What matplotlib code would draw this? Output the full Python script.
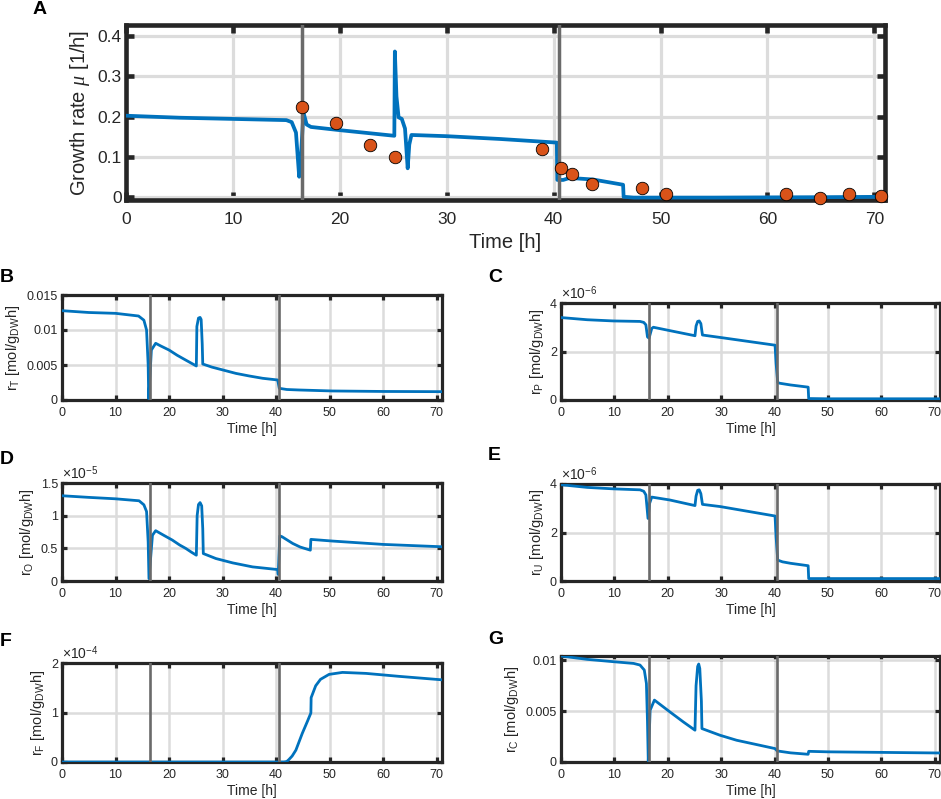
import matplotlib
matplotlib.use('Agg')
import matplotlib.pyplot as plt

plt.rcParams['font.family'] = ['Liberation Sans', 'DejaVu Sans']
plt.rcParams['mathtext.fontset'] = 'custom'
plt.rcParams['mathtext.rm'] = 'Liberation Sans'
plt.rcParams['mathtext.it'] = 'Liberation Serif:italic'

BLUE = '#0072BD'
ORANGE = '#D95319'
GRAY = '#6a6a6a'
GRID = '#dcdcdc'
DARK = '#262626'

# switch times (vertical lines)
switch_times = [16.5, 40.5]
x_ticks = [0, 10, 20, 30, 40, 50, 60, 70]

# ---- panel A: growth rate ----
t_mu = [0, 5, 10, 15, 15.5, 15.9, 16.2, 16.3, 16.6, 16.9, 17.3, 20, 25.1, 25.15,
        25.3, 25.5, 25.8, 26.1, 26.35, 26.5, 26.7, 30, 35, 40.3, 40.35, 40.9, 41.5,
        43.7, 46.5, 46.55, 47.5, 55, 65, 71]
mu = [0.202, 0.197, 0.194, 0.191, 0.186, 0.16, 0.05, 0.07, 0.21, 0.18, 0.174, 0.166,
      0.152, 0.362, 0.25, 0.198, 0.194, 0.17, 0.071, 0.13, 0.154, 0.151, 0.144, 0.135,
      0.042, 0.042, 0.047, 0.043, 0.030, 0.0, -0.002, -0.002, -0.001, 0.0]
t_meas = [16.5, 19.6, 22.8, 25.2, 38.9, 40.65, 41.7, 43.6, 48.3, 50.5, 61.7, 64.9, 67.6, 70.6]
mu_meas = [0.223, 0.185, 0.129, 0.098, 0.118, 0.071, 0.057, 0.033, 0.022, 0.007, 0.007,
           -0.003, 0.007, 0.001]

# ---- panel B: r_T ----
t_T = [0, 5, 10, 14.3, 15.3, 15.8, 16.1, 16.2, 16.7, 17.5, 18.5, 20, 21.5, 23.1, 25.1,
       25.2, 25.5, 25.8, 26.0, 26.2, 26.3, 28, 30, 32.5, 35, 37.5, 40.3, 40.6, 42, 44.3,
       50.5, 60, 71]
r_T = [0.01276, 0.0125, 0.01238, 0.0120, 0.0114, 0.0100, 0.0050, 0.0002, 0.00714, 0.0081,
       0.0077, 0.00714, 0.0064, 0.00571, 0.00486, 0.0105, 0.0117, 0.0118, 0.0115, 0.0080,
       0.00514, 0.0047, 0.0043, 0.0038, 0.00343, 0.0031, 0.00286, 0.00167, 0.0015,
       0.00143, 0.00129, 0.00122, 0.00119]

# ---- panel C: r_P (x1e-6) ----
t_P = [0, 4.9, 9.8, 14.8, 15.5, 15.9, 16.2, 16.5, 17.0, 17.3, 20.4, 25.1, 25.3, 25.6,
       25.9, 26.2, 26.5, 29.8, 40.1, 40.3, 40.6, 41, 43, 46.3, 46.4, 50, 71]
r_P = [3.40, 3.31, 3.26, 3.24, 3.20, 3.10, 2.6, 2.55, 2.95, 3.0, 2.86, 2.65, 3.05, 3.24,
       3.26, 3.15, 2.68, 2.58, 2.26, 1.5, 0.72, 0.69, 0.62, 0.53, 0.06, 0.05, 0.05]

# ---- panel D: r_O (x1e-5) ----
t_O = [0, 5, 10, 14.4, 15.3, 15.8, 16.1, 16.25, 16.9, 17.5, 19, 20.6, 22, 23.1, 24.2,
       25.1, 25.25, 25.5, 25.8, 26.1, 26.3, 26.4, 28.75, 31.9, 35.6, 40.3, 40.4, 40.7,
       41.1, 43.1, 44.5, 46.4, 46.5, 50.6, 60, 71]
r_O = [1.305, 1.28, 1.258, 1.228, 1.166, 1.063, 0.6, 0.036, 0.70, 0.77, 0.70, 0.627,
       0.55, 0.50, 0.44, 0.395, 1.0, 1.17, 1.20, 1.15, 0.8, 0.42, 0.344, 0.277, 0.216,
       0.175, 0.10, 0.69, 0.678, 0.575, 0.52, 0.472, 0.637, 0.611, 0.56, 0.524]

# ---- panel E: r_U (x1e-6) ----
t_U = [0, 4.9, 9.8, 14.8, 15.5, 15.9, 16.3, 16.6, 17.0, 20.4, 25.1, 25.3, 25.6, 25.9,
       26.2, 26.5, 29.8, 40.1, 40.3, 40.6, 41.5, 43, 46.3, 46.4, 50, 71]
r_U = [3.97, 3.86, 3.80, 3.76, 3.70, 3.55, 2.58, 3.2, 3.46, 3.34, 3.11, 3.5, 3.74, 3.76,
       3.6, 3.16, 3.07, 2.68, 1.8, 0.86, 0.79, 0.73, 0.63, 0.10, 0.10, 0.10]

# ---- panel F: r_F (x1e-4) ----
t_F = [0, 41.5, 42.0, 42.4, 43, 43.7, 44.9, 45.85, 46.5, 46.55, 47.4, 48.3, 49.9, 52.4,
       56.8, 63, 71]
r_F = [0, 0, 0.01, 0.05, 0.12, 0.24, 0.58, 0.82, 0.99, 1.30, 1.54, 1.67, 1.77, 1.81,
       1.79, 1.73, 1.66]

# ---- panel G: r_C ----
t_C = [0, 4.9, 9.8, 13.6, 14.8, 15.6, 16.0, 16.2, 16.35, 16.7, 17.5, 20.4, 22.9, 25.1,
       25.3, 25.6, 25.8, 26.0, 26.3, 26.4, 29.8, 32.9, 37.3, 40.1, 40.5, 43, 46.3, 46.4,
       50, 70.3, 71]
r_C = [0.01043, 0.0101, 0.00987, 0.0097, 0.00954, 0.00905, 0.00773, 0.004, 0.0001,
       0.0051, 0.00609, 0.00493, 0.00395, 0.00313, 0.0075, 0.0094, 0.00964, 0.0092, 0.006,
       0.00329, 0.00263, 0.00214, 0.00164, 0.00132, 0.00109, 0.0009, 0.00076, 0.00105,
       0.00100, 0.00089, 0.00089]

W, H = 941, 799
fig = plt.figure(figsize=(W / 100, H / 100), dpi=100)


def box(left, top, right, bottom):
    return [left / W, 1 - bottom / H, (right - left) / W, (bottom - top) / H]


def style(ax, lw, tick_len, fs, grid_lw):
    ax.set_xlim(0, 71)
    ax.set_xticks(x_ticks)
    ax.grid(True, color=GRID, linewidth=grid_lw, zorder=0)
    ax.set_axisbelow(True)
    for s in ax.spines.values():
        s.set_linewidth(lw)
        s.set_color(DARK)
    ax.tick_params(direction='in', top=True, right=True, length=tick_len, width=lw,
                   labelsize=fs, colors=DARK, pad=5)


def small_panel(pos, t, y, ylim, yticks, yticklabels, ylabel, exponent=None):
    ax = fig.add_axes(box(*pos))
    style(ax, 2.3, 3.5, 9, 1.8)
    ax.plot(t, y, color=BLUE, linewidth=2.0, zorder=3)
    for ts in switch_times:
        ax.axvline(ts, color=GRAY, linewidth=1.9, zorder=4)
    ax.set_ylim(*ylim)
    ax.set_yticks(yticks)
    ax.set_yticklabels(yticklabels)
    ax.tick_params(axis='x', pad=5)
    ax.tick_params(axis='y', pad=3)
    ax.set_xlabel('Time [h]', fontsize=10, color=DARK, labelpad=2)
    ax.set_ylabel(ylabel, fontsize=10.5, color=DARK, labelpad=3)
    if exponent is not None:
        ax.text(0.0, 1.015, r'$\times$10$^{%d}$' % exponent, transform=ax.transAxes,
                ha='left', va='bottom', fontsize=10, color=DARK)
    return ax


# panel A
axA = fig.add_axes(box(126, 25, 885, 200))
style(axA, 3.3, 6, 12.5, 2.3)
axA.plot(t_mu, mu, color=BLUE, linewidth=2.7, zorder=3)
for ts in switch_times:
    axA.axvline(ts, color=GRAY, linewidth=2.5, zorder=4)
axA.plot(t_meas, mu_meas, 'o', markersize=9, markerfacecolor=ORANGE,
         markeredgecolor='black', markeredgewidth=0.6, zorder=5, clip_on=False)
axA.set_ylim(-0.008, 0.428)
axA.set_yticks([0, 0.1, 0.2, 0.3, 0.4])
axA.set_yticklabels(['0', '0.1', '0.2', '0.3', '0.4'])
axA.tick_params(axis='x', pad=9)
axA.tick_params(axis='y', pad=3)
axA.set_xlabel('Time [h]', fontsize=14.5, color=DARK, labelpad=4)
axA.set_ylabel(r'Growth rate $\mu$ [1/h]', fontsize=14.5, color=DARK, labelpad=4)

small_panel((62, 295, 442, 400), t_T, r_T, (0, 0.015), [0, 0.005, 0.01, 0.015],
            ['0', '0.005', '0.01', '0.015'], r'r$_\mathrm{T}$ [mol/g$_\mathrm{DW}$h]')
small_panel((561, 303, 940, 400), t_P, r_P, (0, 4), [0, 2, 4], ['0', '2', '4'],
            r'r$_\mathrm{P}$ [mol/g$_\mathrm{DW}$h]', exponent=-6)
small_panel((62, 483, 442, 581), t_O, r_O, (0, 1.5), [0, 0.5, 1, 1.5],
            ['0', '0.5', '1', '1.5'], r'r$_\mathrm{O}$ [mol/g$_\mathrm{DW}$h]', exponent=-5)
small_panel((561, 484, 940, 581), t_U, r_U, (0, 4), [0, 2, 4], ['0', '2', '4'],
            r'r$_\mathrm{U}$ [mol/g$_\mathrm{DW}$h]', exponent=-6)
small_panel((62, 663, 442, 762), t_F, r_F, (0, 2), [0, 1, 2], ['0', '1', '2'],
            r'r$_\mathrm{F}$ [mol/g$_\mathrm{DW}$h]', exponent=-4)
small_panel((561, 656, 940, 762), t_C, r_C, (0, 0.01043), [0, 0.005, 0.01],
            ['0', '0.005', '0.01'], r'r$_\mathrm{C}$ [mol/g$_\mathrm{DW}$h]')

# panel letters
letters = ['A', 'B', 'C', 'D', 'E', 'F', 'G']
letter_pos = [(33, 10), (0, 277), (488, 278), (0, 459), (488, 456), (0, 641), (488, 640)]
for lab, (px, py) in zip(letters, letter_pos):
    fig.text(px / W, 1 - py / H, lab, fontsize=14, fontweight='bold', ha='left',
             va='center', color='black')

fig.savefig('out.png', dpi=100)
